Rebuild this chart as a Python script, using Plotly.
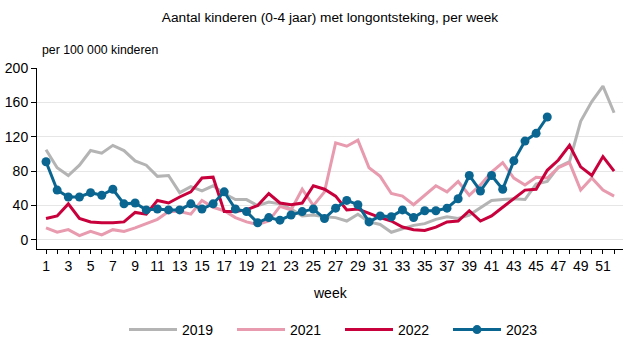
import plotly.graph_objects as go

weeks = list(range(1, 53))
weeks_2023 = list(range(1, 47))

y2019 = [105, 84, 75, 87, 104, 101, 110, 104, 92, 87, 74, 75, 55, 62, 57, 63, 54, 47, 47, 40,
         44, 42, 36, 28, 29, 27, 26, 22, 30, 21, 18, 9, 13, 17, 19, 24, 27, 25, 29, 38,
         46, 47, 48, 47, 65, 68, 85, 91, 138, 161, 179, 148]
y2021 = [14, 9, 12, 5, 10, 6, 12, 10, 14, 19, 24, 33, 33, 30, 46, 38, 34, 26, 21, 18,
         22, 39, 35, 59, 40, 56, 113, 109, 116, 84, 74, 54, 51, 41, 52, 63, 56, 68, 52, 64,
         79, 90, 72, 64, 73, 72, 84, 90, 58, 72, 58, 51]
y2022 = [25, 28, 42, 25, 21, 20, 20, 21, 32, 30, 46, 43, 50, 56, 72, 73, 33, 33, 35, 40,
         54, 43, 41, 43, 63, 59, 51, 35, 36, 31, 26, 22, 15, 12, 11, 15, 21, 22, 34, 22,
         28, 38, 48, 58, 59, 81, 93, 110, 85, 75, 97, 80]
y2023 = [91, 58, 50, 50, 55, 52, 59, 42, 43, 35, 36, 35, 35, 42, 36, 42, 56, 36, 33, 20,
         26, 23, 29, 33, 36, 25, 37, 46, 41, 21, 28, 27, 35, 26, 34, 34, 37, 48, 75, 57,
         75, 59, 92, 115, 124, 143]

tick_vals = weeks
tick_text = [str(w) if w % 2 == 1 else "" for w in weeks]
y_ticks = [0, 40, 80, 120, 160, 200]

FONT = "Liberation Sans, Arial, sans-serif"

fig = go.Figure()
fig.add_trace(go.Scatter(x=weeks, y=y2019, name="2019", mode="lines",
                         line=dict(color="#b4b4b4", width=3)))
fig.add_trace(go.Scatter(x=weeks, y=y2021, name="2021", mode="lines",
                         line=dict(color="#e89aae", width=3)))
fig.add_trace(go.Scatter(x=weeks, y=y2022, name="2022", mode="lines",
                         line=dict(color="#c8003c", width=3)))
fig.add_trace(go.Scatter(x=weeks_2023, y=y2023, name="2023", mode="lines+markers",
                         line=dict(color="#0a6690", width=3),
                         marker=dict(color="#0a6690", size=9)))

fig.update_layout(
    width=634, height=351,
    margin=dict(l=37, r=11, t=68, b=102, autoexpand=False),
    paper_bgcolor="white", plot_bgcolor="white",
    font=dict(family=FONT, size=14, color="#000000"),
    title=dict(text="Aantal kinderen (0-4 jaar) met longontsteking, per week",
               x=0.5, xref="paper", xanchor="center",
               y=1 - 17 / 351, yref="container", yanchor="middle",
               font=dict(family=FONT, size=13.7, color="#000000")),
    showlegend=True,
    legend=dict(orientation="h", x=(124 - 37) / 586, xanchor="left",
                y=1 - 330 / 351, yanchor="middle",
                xref="paper", yref="container", itemwidth=48, entrywidth=45,
                font=dict(family=FONT, size=14, color="#000000"),
                traceorder="normal"),
    xaxis=dict(range=[0.19, 52.8], tickmode="array", tickvals=tick_vals, ticktext=tick_text,
               ticks="outside", ticklen=4, tickcolor="#000000", showline=True,
               linecolor="#000000", linewidth=1, showgrid=False, zeroline=False,
               tickangle=0, tickfont=dict(family=FONT, size=14), automargin=False),
    yaxis=dict(range=[-10.5, 200], tickmode="array", tickvals=y_ticks,
               ticks="outside", ticklen=5, tickcolor="#000000", showline=True,
               linecolor="#000000", linewidth=1, showgrid=True, gridcolor="#e6e6e6",
               gridwidth=1, zeroline=False, tickfont=dict(family=FONT, size=14),
               automargin=False),
    annotations=[
        dict(text="per 100 000 kinderen", x=0.005, xref="paper", xanchor="left",
             y=(249 - 50) / 181, yref="paper", yanchor="middle", showarrow=False,
             font=dict(family=FONT, size=12.3, color="#000000")),
        dict(text="week", x=0.5, xref="paper", xanchor="center",
             y=(249 - 293) / 181, yref="paper", yanchor="middle", showarrow=False,
             font=dict(family=FONT, size=14, color="#000000")),
    ],
)

fig.write_html("out.html")
